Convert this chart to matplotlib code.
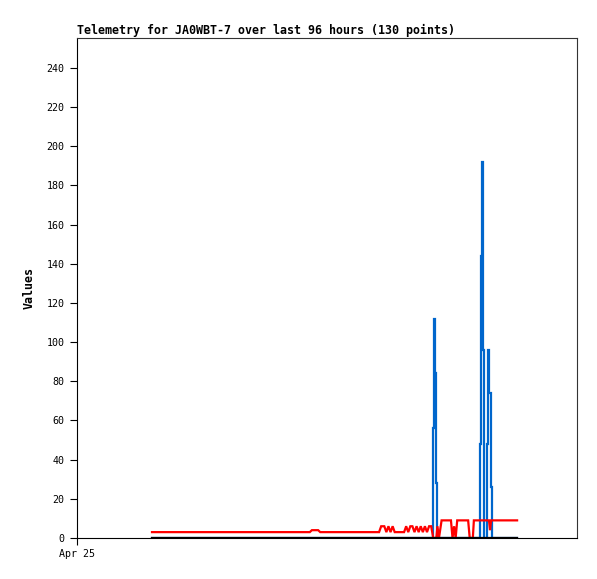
import matplotlib
matplotlib.use("Agg")
import matplotlib.pyplot as plt

# time in hours since Apr 25 00:00
hours = [14.4, 20.0, 26.0, 32.0, 38.0, 44.7, 45.1, 46.3, 46.7, 52.0,
         58.0, 58.4, 59.0, 59.4, 59.8, 60.2, 60.6, 61.0, 62.0, 62.8,
         63.2, 63.6, 64.0, 64.4, 64.8, 65.2, 65.6, 66.0, 66.4, 66.8,
         67.2, 67.6, 68.0, 68.2, 68.4, 68.6, 68.8, 69.0, 69.2, 69.5,
         70.0, 71.8, 72.1, 72.4, 72.7, 73.0, 75.1, 75.4, 76.0, 76.2,
         77.2, 77.4, 77.6, 77.8, 78.0, 78.2, 78.7, 78.9, 79.1, 79.3,
         79.5, 79.7, 80.5, 82.0, 83.5, 84.5]

blue_vals = [0, 0, 0, 0, 0, 0, 0, 0, 0, 0,
             0, 0, 0, 0, 0, 0, 0, 0, 0, 0,
             0, 0, 0, 0, 0, 0, 0, 0, 0, 0,
             0, 0, 0, 0, 56, 112, 84, 28, 0, 0,
             0, 0, 0, 0, 0, 0, 0, 0, 0, 0,
             0, 48, 144, 192, 96, 0, 0, 48, 96, 74,
             26, 0, 0, 0, 0, 0]

red_vals = [3, 3, 3, 3, 3, 3, 4, 4, 3, 3,
            3, 6, 6, 3, 6, 3, 6, 3, 3, 3,
            6, 3, 6, 6, 3, 6, 3, 6, 3, 6,
            3, 6, 6, 3, 0, 0, 0, 0, 6, 0,
            9, 9, 0, 6, 0, 9, 9, 0, 0, 9,
            9, 9, 9, 9, 9, 9, 9, 9, 9, 4,
            9, 9, 9, 9, 9, 9]

black_vals = [0] * len(hours)

title = "Telemetry for JA0WBT-7 over last 96 hours (130 points)"
y_ticks = list(range(0, 241, 20))
x_tick_pos = [0]
x_tick_labels = ["Apr 25"]

mono = "DejaVu Sans Mono"
W, H = 597, 579
fig = plt.figure(figsize=(W / 100, H / 100), dpi=100)
ax = fig.add_axes([77 / W, (H - 538) / H, 500 / W, 500 / H])

ax.plot(hours, blue_vals, color="#0066cc", lw=1.6, zorder=2,
        drawstyle="steps-mid", solid_joinstyle="miter")
ax.plot(hours, red_vals, color="#ff0000", lw=1.6, zorder=3, solid_joinstyle="miter")
ax.plot(hours, black_vals, color="#000000", lw=1.6, zorder=4)

ax.set_xlim(0, 96)
ax.set_ylim(0, 255.3)
ax.set_yticks(y_ticks)
ax.set_yticklabels([str(v) for v in y_ticks], fontfamily=mono, fontsize=7.2)
ax.set_xticks(x_tick_pos)
ax.set_xticklabels(x_tick_labels, fontfamily=mono, fontsize=7.2)
ax.tick_params(axis="y", length=5, width=0.8, pad=4, direction="out")
ax.tick_params(axis="x", length=5, width=0.8, pad=3, direction="out")

for s in ax.spines.values():
    s.set_linewidth(0.8)
    s.set_color("#333333")
ax.spines["left"].set_color("black")
ax.spines["bottom"].set_color("black")

ax.set_title(title, loc="left", fontfamily=mono, fontweight="bold", fontsize=8.35, pad=3)
ax.set_ylabel("Values", fontfamily=mono, fontweight="bold", fontsize=8.4)
ax.yaxis.set_label_coords(-0.082, 0.5)

fig.savefig("out.png", dpi=100)
